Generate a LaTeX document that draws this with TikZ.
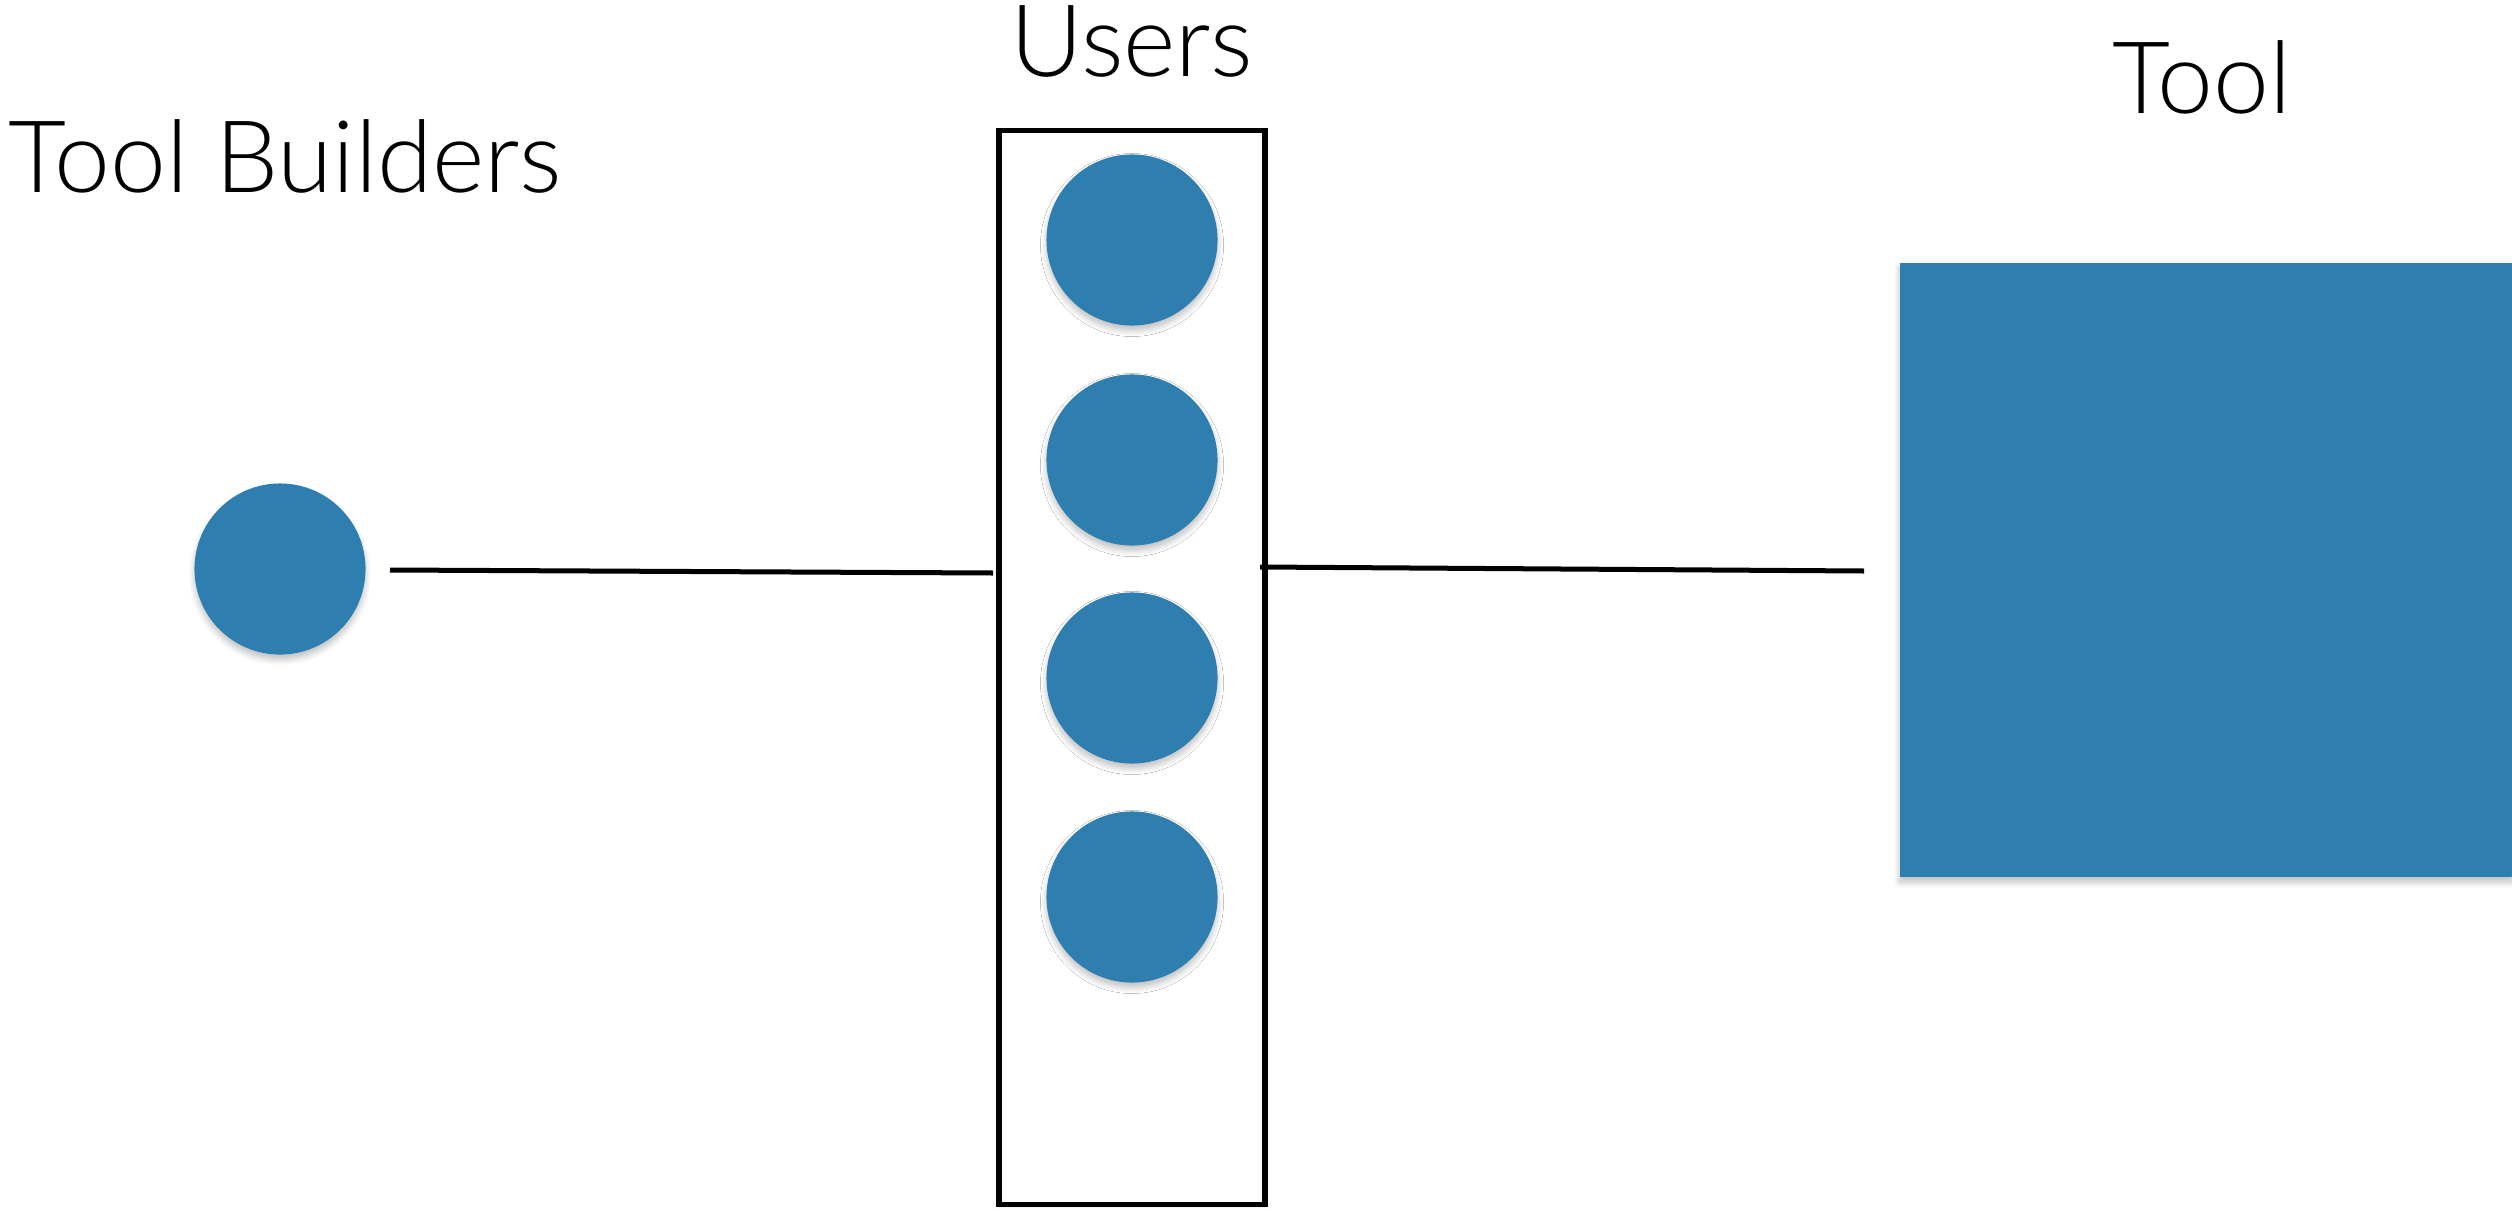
\documentclass[tikz,border=0pt]{standalone}
\usepackage{fontspec}
\setmainfont{Lato Light}
\usetikzlibrary{shadows.blur}
\definecolor{dotblue}{RGB}{46,126,176}
\begin{document}
\begin{tikzpicture}[x=0.01cm, y=-0.01cm,
  label/.style={font=\fontsize{28.5}{32}\selectfont, inner sep=0pt},
  person/.style={circle, fill=dotblue, minimum size=1.71cm, inner sep=0pt,
    blur shadow={shadow xshift=0pt, shadow yshift=-0.05cm, shadow blur steps=6, shadow opacity=25, shadow blur radius=0.06cm}},
  link/.style={line width=0.05cm, black}]
\useasboundingbox (0,0) rectangle (2512,1209);

% headings
\node[label, anchor=base west] (hbuild) at (8,192) {Tool Builders};
\node[label, anchor=base] (husers) at (1132,77) {Users};
\node[label, anchor=base] (htool) at (2202,113) {Tool};

% tool builder
\node[person] (tb) at (280,569) {};

% group of users
\node[draw, fill=white, line width=0.055cm, minimum width=2.66cm, minimum height=10.73cm, inner sep=0pt,
  blur shadow={shadow xshift=0pt, shadow yshift=-0.02cm, shadow blur steps=4, shadow opacity=20, shadow blur radius=0.03cm}]
  (users) at (1132,667.5) {};
\foreach \i/\y in {1/240, 2/460, 3/678, 4/897}
  \node[person] (u\i) at (1132,\y) {};

% the tool
\node[fill=dotblue, minimum width=6.13cm, minimum height=6.14cm, inner sep=0pt, anchor=north west,
  blur shadow={shadow xshift=0pt, shadow yshift=-0.05cm, shadow blur steps=6, shadow opacity=25, shadow blur radius=0.06cm}]
  (tool) at (1899,262) {};

% connector end points
\coordinate (a1) at (390,570);
\coordinate (a2) at (993,573);
\coordinate (b1) at (1260,567);
\coordinate (b2) at (1864,571);
\draw[link] (a1) -- (a2);
\draw[link] (b1) -- (b2);
\end{tikzpicture}
\end{document}
